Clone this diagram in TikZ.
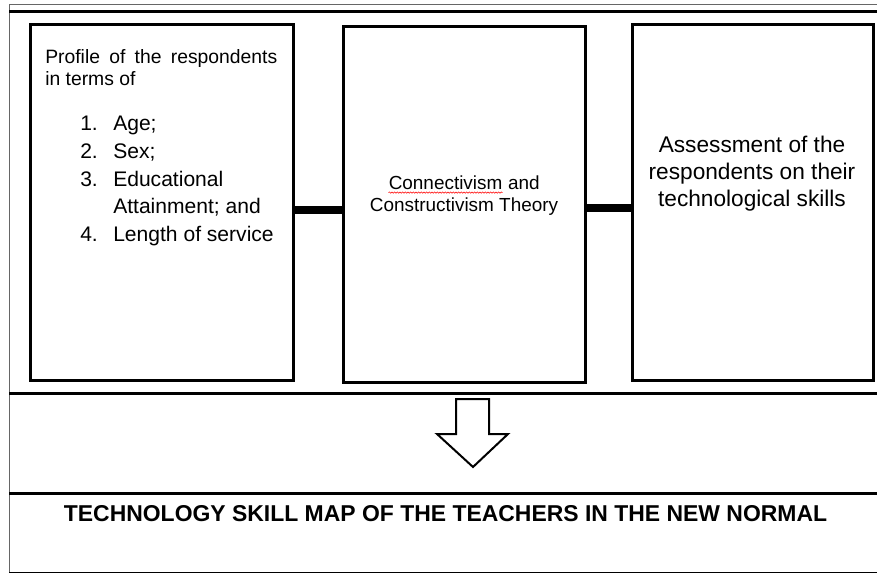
\documentclass[tikz,border=0pt]{standalone}
\usepackage{fontspec}
\setmainfont{Liberation Sans}
\usetikzlibrary{positioning, decorations.pathmorphing}

% red wavy underline, as a spell checker marks a word
\newcommand{\spellwave}[1]{\tikz[baseline=(w.base)]{\node (w) [inner sep=0pt] {#1};
  \draw [red, line width=0.4pt, decorate, decoration={snake, amplitude=0.5pt, segment length=2pt}]
    ([yshift=-2pt]w.base west) -- ([yshift=-2pt]w.base east);}}

\tikzset{
  box/.style={draw, rectangle, line width=2.25pt, inner sep=0pt, minimum height=266.25pt},
  link/.style={line width=6pt},
  rule/.style={line width=2.25pt},
  frame/.style={line width=0.75pt, black!60}
}

\begin{document}
\begin{tikzpicture}[x=0.75pt, y=-0.75pt]

\useasboundingbox (0,0) rectangle (877,573);

% outer frame and the rows
\draw [frame] (9,572) -- (9,5) -- (877,5);
\draw [frame, black] (9,572) -- (877,572);
\draw [rule] (9,12) -- (877,12);
\draw [rule] (9,393) -- (877,393);
\draw [rule] (9,493) -- (877,493);

\node (b1) [box, minimum width=197.25pt] at (161.5, 202.5) {};
\node (b2) [box, minimum width=181.5pt] at (464, 204.5) {};
\node (b3) [box, minimum width=180.75pt] at (752.5, 202.5) {};

\node (profile) [anchor=north west, text width=174pt, align=justify, inner sep=0pt,
  font=\fontsize{14.5}{16.5}\selectfont] at (45, 49) {Profile of the respondents\linebreak in terms of};
\node (items) [anchor=north west, align=left, inner sep=0pt,
  font=\fontsize{15.8}{20.8}\selectfont] at (80, 116) {%
  \makebox[24.75pt][l]{1.}Age;\\
  \makebox[24.75pt][l]{2.}Sex;\\
  \makebox[24.75pt][l]{3.}Educational\\
  \makebox[24.75pt][l]{}Attainment; and\\
  \makebox[24.75pt][l]{4.}Length of service};

\node (theory) [align=center, font=\fontsize{14.2}{16.5}\selectfont] at (464, 196)
  {\spellwave{Connectivism} and\\Constructivism Theory};

\node (assess) [align=center, font=\fontsize{17}{20.25}\selectfont] at (752, 174)
  {Assessment of the\\respondents on their\\technological skills};

\coordinate (l1) at ([yshift=-5.6pt]b1.east);
\coordinate (l2) at ([yshift=-2.6pt]b2.east);
\draw [link] (l1) -- (l1 -| b2.west);
\draw [link] (l2) -- (l2 -| b3.west);

% hollow arrow down to the result
\draw [line width=1.5pt, line join=miter] (456,399) -- (489,399) -- (489,434) -- (508,434)
  -- (473,467) -- (437,434) -- (456,434) -- cycle;

\node (title) [font=\bfseries\fontsize{17.2}{20}\selectfont] at (445.5, 514)
  {TECHNOLOGY SKILL MAP OF THE TEACHERS IN THE NEW NORMAL};

\end{tikzpicture}
\end{document}
